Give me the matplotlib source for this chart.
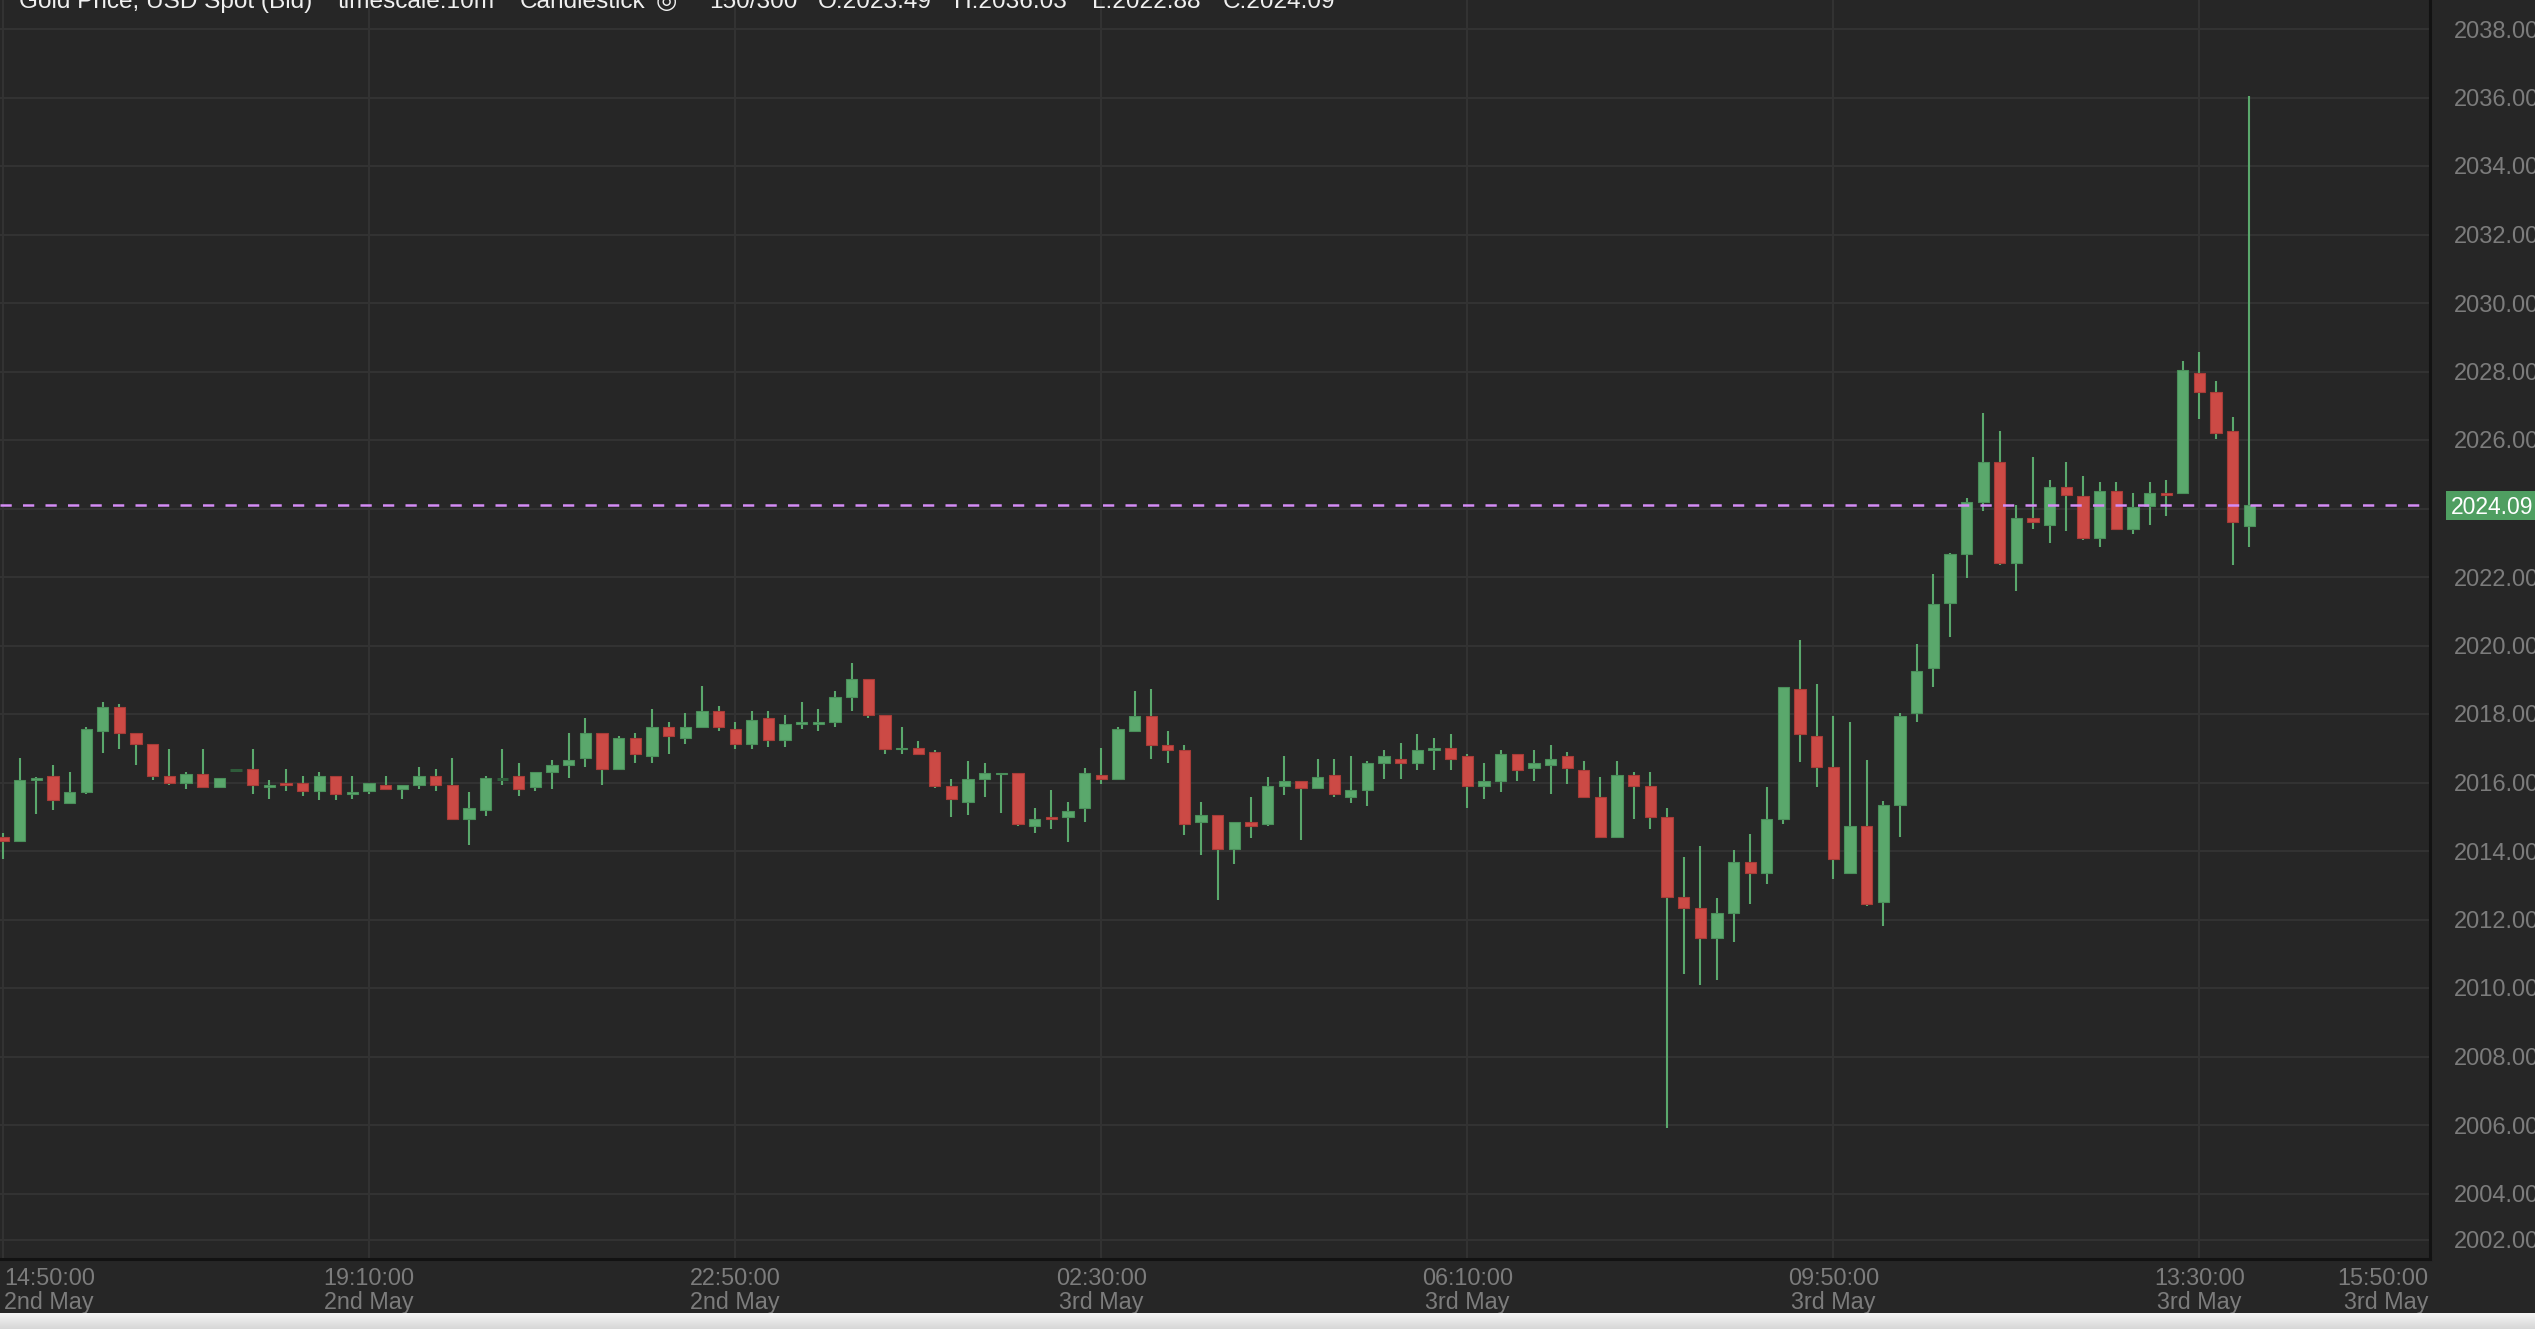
import matplotlib
matplotlib.use("Agg")
import matplotlib.pyplot as plt
import numpy as np
from matplotlib.patches import Rectangle
from matplotlib.transforms import blended_transform_factory

# ---------------- data (10-minute candles) ----------------
opens = [2014.41, 2014.29, 2016.07, 2016.18, 2015.41, 2015.73, 2017.51, 2018.21, 2017.44, 2017.11,
         2016.19, 2016.00, 2016.25, 2015.86, 2016.36, 2016.39, 2015.87, 2015.98, 2015.99, 2015.74,
         2016.18, 2015.67, 2015.74, 2015.92, 2015.80, 2015.93, 2016.18, 2015.93, 2014.94, 2015.20,
         2016.10, 2016.18, 2015.86, 2016.32, 2016.51, 2016.72, 2017.44, 2016.39, 2017.30, 2016.78,
         2017.63, 2017.30, 2017.63, 2018.09, 2017.56, 2017.11, 2017.89, 2017.24, 2017.71, 2017.71,
         2017.77, 2018.49, 2019.01, 2017.96, 2016.97, 2017.02, 2016.89, 2015.91, 2015.44, 2016.10,
         2016.24, 2016.29, 2014.72, 2014.99, 2014.99, 2015.25, 2016.23, 2016.11, 2017.49, 2017.94,
         2017.09, 2016.96, 2014.85, 2015.05, 2014.07, 2014.85, 2014.79, 2015.91, 2016.04, 2015.84,
         2016.23, 2015.58, 2015.78, 2016.57, 2016.69, 2016.57, 2016.96, 2017.02, 2016.76, 2015.91,
         2016.04, 2016.83, 2016.43, 2016.50, 2016.76, 2016.36, 2015.58, 2014.40, 2016.23, 2015.91,
         2014.99, 2012.65, 2012.33, 2011.47, 2012.19, 2013.68, 2013.37, 2014.94, 2018.74, 2017.36,
         2016.45, 2013.37, 2014.74, 2012.51, 2015.34, 2018.02, 2019.35, 2021.25, 2022.68, 2024.18,
         2025.35, 2022.41, 2023.71, 2023.53, 2024.63, 2024.37, 2023.14, 2024.50, 2023.40, 2024.06,
         2024.44, 2024.44, 2027.97, 2027.39, 2026.27, 2023.49]
highs = [2014.54, 2016.71, 2016.17, 2016.50, 2016.32, 2017.61, 2018.34, 2018.28, 2017.44, 2017.11,
         2016.98, 2016.32, 2016.98, 2016.13, 2016.36, 2016.98, 2016.06, 2016.39, 2016.18, 2016.32,
         2016.18, 2016.18, 2015.99, 2016.18, 2015.92, 2016.45, 2016.39, 2016.71, 2015.73, 2016.18,
         2016.98, 2016.58, 2016.32, 2016.65, 2017.44, 2017.89, 2017.44, 2017.36, 2017.44, 2018.16,
         2017.77, 2018.03, 2018.82, 2018.22, 2017.77, 2018.09, 2018.09, 2017.96, 2018.35, 2018.16,
         2018.68, 2019.48, 2019.01, 2017.96, 2017.62, 2017.22, 2016.96, 2016.10, 2016.63, 2016.57,
         2016.29, 2016.29, 2015.25, 2015.78, 2015.44, 2016.43, 2017.02, 2017.62, 2018.67, 2018.74,
         2017.49, 2017.09, 2015.44, 2015.05, 2014.85, 2015.58, 2016.17, 2016.76, 2016.04, 2016.69,
         2016.69, 2016.76, 2016.63, 2016.96, 2017.16, 2017.42, 2017.29, 2017.42, 2016.83, 2016.57,
         2016.96, 2016.83, 2016.96, 2017.09, 2016.90, 2016.63, 2016.17, 2016.63, 2016.30, 2016.30,
         2015.25, 2013.83, 2014.15, 2012.64, 2014.02, 2014.49, 2015.87, 2018.80, 2020.16, 2018.87,
         2017.95, 2017.76, 2016.65, 2015.46, 2018.02, 2020.03, 2022.09, 2022.70, 2024.30, 2026.79,
         2026.27, 2024.11, 2025.49, 2024.83, 2025.35, 2024.96, 2024.76, 2024.76, 2024.44, 2024.76,
         2024.83, 2028.30, 2028.56, 2027.71, 2026.67, 2036.03]
lows = [2013.77, 2014.29, 2015.08, 2015.21, 2015.41, 2015.67, 2016.85, 2016.98, 2016.52, 2016.06,
        2015.93, 2015.80, 2015.86, 2015.86, 2016.36, 2015.67, 2015.53, 2015.74, 2015.60, 2015.48,
        2015.48, 2015.53, 2015.67, 2015.80, 2015.53, 2015.80, 2015.74, 2014.94, 2014.17, 2015.01,
        2015.93, 2015.60, 2015.74, 2015.80, 2016.13, 2016.45, 2015.93, 2016.39, 2016.58, 2016.58,
        2016.84, 2017.11, 2017.63, 2017.50, 2016.98, 2016.98, 2017.05, 2017.05, 2017.57, 2017.50,
        2017.63, 2018.09, 2017.89, 2016.84, 2016.84, 2016.84, 2015.84, 2014.99, 2015.05, 2015.57,
        2015.11, 2014.72, 2014.52, 2014.65, 2014.27, 2014.85, 2015.97, 2016.11, 2017.49, 2016.70,
        2016.57, 2014.46, 2013.88, 2012.56, 2013.61, 2014.39, 2014.72, 2015.64, 2014.32, 2015.84,
        2015.58, 2015.39, 2015.32, 2016.10, 2016.10, 2016.36, 2016.36, 2016.36, 2015.25, 2015.51,
        2015.71, 2016.04, 2016.04, 2015.65, 2015.97, 2015.58, 2014.40, 2014.40, 2014.92, 2014.65,
        2005.91, 2010.42, 2010.09, 2010.22, 2011.34, 2012.45, 2013.05, 2014.80, 2016.59, 2015.87,
        2013.18, 2013.37, 2012.38, 2011.80, 2014.41, 2017.76, 2018.80, 2020.24, 2021.98, 2023.92,
        2022.35, 2021.60, 2023.39, 2022.99, 2023.34, 2023.07, 2022.88, 2023.40, 2023.27, 2023.53,
        2023.79, 2024.44, 2026.60, 2026.02, 2022.35, 2022.88]
closes = [2014.29, 2016.06, 2016.12, 2015.48, 2015.72, 2017.56, 2018.21, 2017.45, 2017.11, 2016.19,
          2016.00, 2016.25, 2015.86, 2016.13, 2016.36, 2015.93, 2015.93, 2015.93, 2015.74, 2016.18,
          2015.67, 2015.72, 2015.99, 2015.80, 2015.92, 2016.18, 2015.93, 2014.94, 2015.27, 2016.12,
          2016.10, 2015.80, 2016.32, 2016.51, 2016.65, 2017.44, 2016.39, 2017.30, 2016.84, 2017.63,
          2017.37, 2017.63, 2018.09, 2017.63, 2017.11, 2017.83, 2017.24, 2017.70, 2017.77, 2017.77,
          2018.49, 2019.01, 2017.96, 2016.98, 2017.02, 2016.84, 2015.91, 2015.51, 2016.10, 2016.29,
          2016.29, 2014.79, 2014.92, 2014.92, 2015.18, 2016.29, 2016.11, 2017.55, 2017.94, 2017.09,
          2016.96, 2014.79, 2015.05, 2014.07, 2014.85, 2014.72, 2015.91, 2016.04, 2015.84, 2016.17,
          2015.65, 2015.78, 2016.57, 2016.76, 2016.57, 2016.96, 2017.02, 2016.70, 2015.91, 2016.04,
          2016.83, 2016.36, 2016.57, 2016.70, 2016.43, 2015.58, 2014.40, 2016.23, 2015.91, 2014.99,
          2012.65, 2012.33, 2011.47, 2012.19, 2013.68, 2013.37, 2014.94, 2018.80, 2017.43, 2016.45,
          2013.76, 2014.74, 2012.45, 2015.34, 2017.95, 2019.26, 2021.21, 2022.68, 2024.18, 2025.35,
          2022.41, 2023.71, 2023.60, 2024.63, 2024.38, 2023.14, 2024.50, 2023.40, 2024.04, 2024.44,
          2024.38, 2028.03, 2027.39, 2026.21, 2023.60, 2024.09]

time_ticks = ["15:30:00", "19:10:00", "22:50:00", "02:30:00", "06:10:00", "09:50:00", "13:30:00"]
date_ticks = ["", "2nd May", "2nd May", "3rd May", "3rd May", "3rd May", "3rd May"]
edge_left_label = "14:50:00\n2nd May"
edge_right_label = "15:50:00\n3rd May"
price_ticks = [2004, 2006, 2008, 2010, 2012, 2014, 2016, 2018, 2020, 2022, 2024,
               2026, 2028, 2030, 2032, 2034, 2036, 2038]
title_parts = ["Gold Price, USD Spot (Bid)", "timescale:10m", "Candlestick", "\u25CE",
               "150/300", "O:2023.49", "H:2036.03", "L:2022.88", "C:2024.09"]

# ---------------- style ----------------
BG = "#262626"
GRID = "#323232"
GREEN = "#5aa86c"
GREEN_EDGE = "#4a8f5a"
RED = "#cc4a45"
RED_EDGE = "#a83c38"
DOJI = "#2f5c3b"
TICK = "#7c7c7c"
BORDER = "#121212"

W, H = 2535, 1329
fig = plt.figure(figsize=(W / 100, H / 100), dpi=100, facecolor=BG)
plt.rcParams["font.family"] = ["Liberation Sans", "DejaVu Sans"]

ax_right_px, ax_bottom_px = 2430, 1259
ax = fig.add_axes([0, (H - ax_bottom_px) / H, ax_right_px / W, ax_bottom_px / H])
ax.set_facecolor(BG)

o = np.array(opens); h = np.array(highs); l = np.array(lows); c = np.array(closes)
idx = np.arange(len(o))
up = c > o
dn = c < o
dj = c == o

body_w = 0.68
# wicks (always green)
ax.vlines(idx, l, h, color=GREEN, linewidth=1.5, zorder=3)
# bodies
ax.bar(idx[up], (c - o)[up], bottom=o[up], width=body_w, color=GREEN,
       edgecolor=GREEN_EDGE, linewidth=0.8, zorder=4)
ax.bar(idx[dn], (o - c)[dn], bottom=c[dn], width=body_w, color=RED,
       edgecolor=RED_EDGE, linewidth=0.8, zorder=4)
ax.hlines(c[dj], idx[dj] - body_w / 2, idx[dj] + body_w / 2, color=DOJI,
          linewidth=2.2, zorder=4)

# last price line
last = closes[-1]
ax.axhline(last, color="#d48cf5", linewidth=1.8, linestyle=(0, (4.5, 4.5)), zorder=5)

# limits: 16.64 px per bar, first bar at x=3 px; 34.25 px per dollar, 2038 at y=29 px
px_bar = 16.64
x0_px = 3
ax.set_xlim(-x0_px / px_bar, (ax_right_px - x0_px) / px_bar)
px_usd = 34.25
top_val = 2038 + 29 / px_usd
ax.set_ylim(top_val - ax_bottom_px / px_usd, top_val)

# y axis on the right (the 2024.00 label is hidden behind the last-price tag)
yt = list(price_ticks)
ylabels = ["" if abs(v - last) < 0.5 else f"{v:.2f}" for v in yt]
# the chart draws its lowest label (2002.00) clamped just above the bottom edge
yt.append(top_val - 1240 / px_usd)
ylabels.append("2002.00")
ax.yaxis.tick_right()
ax.set_yticks(yt)
ax.set_yticklabels(ylabels)
ax.tick_params(axis="y", length=0, pad=17, labelcolor=TICK, labelsize=17)

# x axis
xt = [0, 22, 44, 66, 88, 110, 132]
ax.set_xticks(xt)
ax.set_xticklabels(["" if i == 0 else f"{t}\n{d}" for i, (t, d) in enumerate(zip(time_ticks, date_ticks))],
                   linespacing=1.05)
ax.tick_params(axis="x", length=0, pad=6, labelcolor=TICK, labelsize=16.8)
ax.annotate(edge_left_label, xy=(0, 0), xycoords="axes fraction", xytext=(3, -6),
            textcoords="offset points", ha="left", va="top", color=TICK,
            fontsize=16.8, linespacing=1.05, annotation_clip=False)
ax.annotate(edge_right_label, xy=(1, 0), xycoords="axes fraction", xytext=(-1, -6),
            textcoords="offset points", ha="right", va="top", color=TICK,
            fontsize=16.8, linespacing=1.05, annotation_clip=False)

ax.grid(True, color=GRID, linewidth=1.5, zorder=0)
ax.set_axisbelow(True)
for s in ["left", "top"]:
    ax.spines[s].set_visible(False)
for s in ["right", "bottom"]:
    ax.spines[s].set_color(BORDER)
    ax.spines[s].set_linewidth(2.2)

# last price tag on the right axis
tr = blended_transform_factory(fig.transFigure, ax.transData)
half = 14.5 / px_usd
ax.add_patch(Rectangle((2446 / W, last - half), (W - 2446) / W + 0.01, 2 * half,
                       transform=tr, facecolor="#4f9e61", edgecolor="none",
                       clip_on=False, zorder=10))
ax.text(2451 / W, last, f"{last:.2f}", transform=tr, color="white", fontsize=16.5,
        va="center_baseline", ha="left", clip_on=False, zorder=11)

# title (clipped at the top edge like in the original)
title_x = [19, 338, 520, 656, 709, 818, 954, 1092, 1223]
for tx, part in zip(title_x, title_parts):
    fam = ["DejaVu Sans"] if part == "\u25CE" else ["Liberation Sans", "DejaVu Sans"]
    fig.text(tx / W, 1 - 8 / H, part, color="#f0f0f0", fontsize=17.6,
             ha="left", va="baseline", family=fam)

# light strip at the very bottom
gax = fig.add_axes([0, 0, 1, 16 / H])
grad = np.linspace(0.84, 0.96, 32).reshape(-1, 1)
gax.imshow(grad[::-1], aspect="auto", cmap="gray", vmin=0, vmax=1, extent=[0, 1, 0, 1])
gax.set_axis_off()

fig.savefig("out.png", dpi=100, facecolor=BG)
